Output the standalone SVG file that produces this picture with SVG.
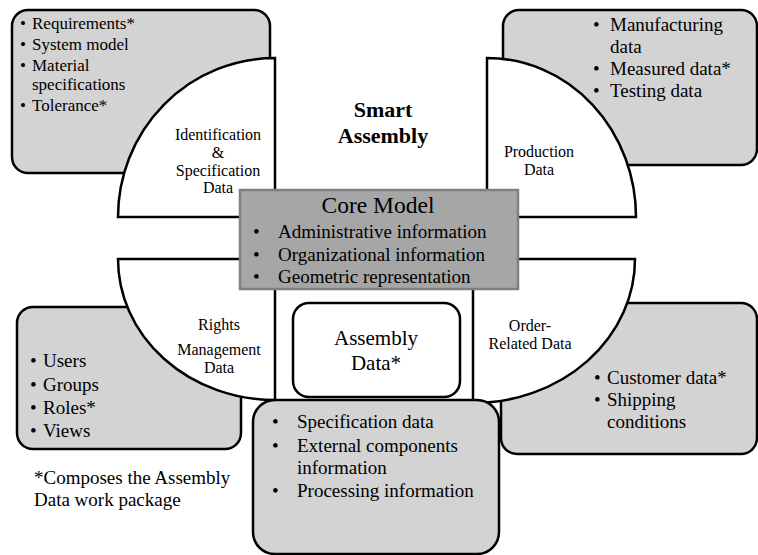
<svg xmlns="http://www.w3.org/2000/svg" width="758" height="555" viewBox="0 0 758 555" font-family="'Liberation Serif', 'Times New Roman', 'DejaVu Serif', serif">
<style>
.box{fill:#d3d3d3;stroke:#000;stroke-width:2.5}
.qc{fill:#fff;stroke:#000;stroke-width:2.5;stroke-linejoin:miter}
.core{fill:#a6a6a6;stroke:#808080;stroke-width:2.5}
.wbox{fill:#fff;stroke:#000;stroke-width:2.5}
text{font-family:'Liberation Serif','Times New Roman','DejaVu Serif',serif;fill:#000}
.t17{font-size:17px}
.t19{font-size:19px}
.lab{font-size:16px;text-anchor:middle}
.mid{text-anchor:middle}
</style>
<rect width="758" height="555" fill="#fff"/>
<g id="connectors"/>
<g id="id-spec-list">
<rect class="box" x="12" y="10" width="258" height="163" rx="16"/>
<g class="t17">
<text x="20" y="29">•</text><text x="32" y="29">Requirements*</text>
<text x="20" y="50">•</text><text x="32" y="50">System model</text>
<text x="20" y="71">•</text><text x="32" y="71">Material</text>
<text x="32" y="90">specifications</text>
<text x="20" y="111">•</text><text x="32" y="111">Tolerance*</text>
</g>
</g>
<g id="production-list">
<rect class="box" x="503" y="10" width="254" height="155" rx="16"/>
<g class="t19">
<text x="593" y="31">•</text><text x="610" y="31">Manufacturing</text>
<text x="610" y="53">data</text>
<text x="593" y="75">•</text><text x="610" y="75">Measured data*</text>
<text x="593" y="97">•</text><text x="610" y="97">Testing data</text>
</g>
</g>
<g id="rights-list">
<rect class="box" x="17" y="307" width="224" height="142" rx="16"/>
<g class="t19">
<text x="30" y="367">•</text><text x="43" y="367">Users</text>
<text x="30" y="391">•</text><text x="43" y="391">Groups</text>
<text x="30" y="414">•</text><text x="43" y="414">Roles*</text>
<text x="30" y="437">•</text><text x="43" y="437">Views</text>
</g>
</g>
<g id="order-list">
<rect class="box" x="501" y="303" width="256" height="151" rx="16"/>
<g class="t19">
<text x="594" y="384">•</text><text x="607" y="384">Customer data*</text>
<text x="594" y="406">•</text><text x="607" y="406">Shipping</text>
<text x="607" y="428">conditions</text>
</g>
</g>
<g id="id-spec">
<path class="qc" d="M275,217 L118,217 A157,159 0 0 1 275,58 Z"/>
<text class="lab" x="218" y="140">Identification</text>
<text class="lab" x="218" y="158">&amp;</text>
<text class="lab" x="218" y="176">Specification</text>
<text class="lab" x="218" y="193">Data</text>
</g>
<g id="production">
<path class="qc" d="M487,217 L487,58 A149,159 0 0 1 636,217 Z"/>
<text class="lab" x="539" y="157">Production</text>
<text class="lab" x="539" y="175">Data</text>
</g>
<g id="rights">
<path class="qc" d="M275,259 L118,259 A157,141 0 0 0 275,400 Z"/>
<text class="lab" x="219" y="330">Rights</text>
<text class="lab" x="219" y="355">Management</text>
<text class="lab" x="219" y="373">Data</text>
</g>
<g id="order">
<path class="qc" d="M473,259 L473,403 A162,144 0 0 0 635,259 Z"/>
<text class="lab" x="530" y="331">Order-</text>
<text class="lab" x="530" y="349">Related Data</text>
</g>
<g id="assembly-list">
<rect class="box" x="253" y="400" width="246" height="154" rx="22"/>
<g class="t19">
<text x="272" y="428">•</text><text x="297" y="428">Specification data</text>
<text x="272" y="452">•</text><text x="297" y="452">External components</text>
<text x="297" y="474">information</text>
<text x="272" y="497">•</text><text x="297" y="497">Processing information</text>
</g>
</g>
<g id="assembly-data">
<rect class="wbox" x="293" y="303" width="167" height="94" rx="16"/>
<text class="mid" x="376" y="345" font-size="21">Assembly</text>
<text class="mid" x="376" y="370" font-size="21">Data*</text>
</g>
<g id="core-model">
<rect class="core" x="240" y="190" width="278" height="99"/>
<text class="mid" x="378" y="213" font-size="23.5">Core Model</text>
<g class="t19">
<text x="253" y="238">•</text><text x="278" y="238">Administrative information</text>
<text x="253" y="261">•</text><text x="278" y="261">Organizational information</text>
<text x="253" y="283">•</text><text x="278" y="283">Geometric representation</text>
</g>
</g>
<g id="title">
<text class="mid" x="383" y="117" font-size="22" font-weight="bold">Smart</text>
<text class="mid" x="383" y="143" font-size="22" font-weight="bold">Assembly</text>
</g>
<g id="footnote" class="t19">
<text x="34" y="484">*Composes the Assembly</text>
<text x="34" y="506">Data work package</text>
</g>
</svg>
